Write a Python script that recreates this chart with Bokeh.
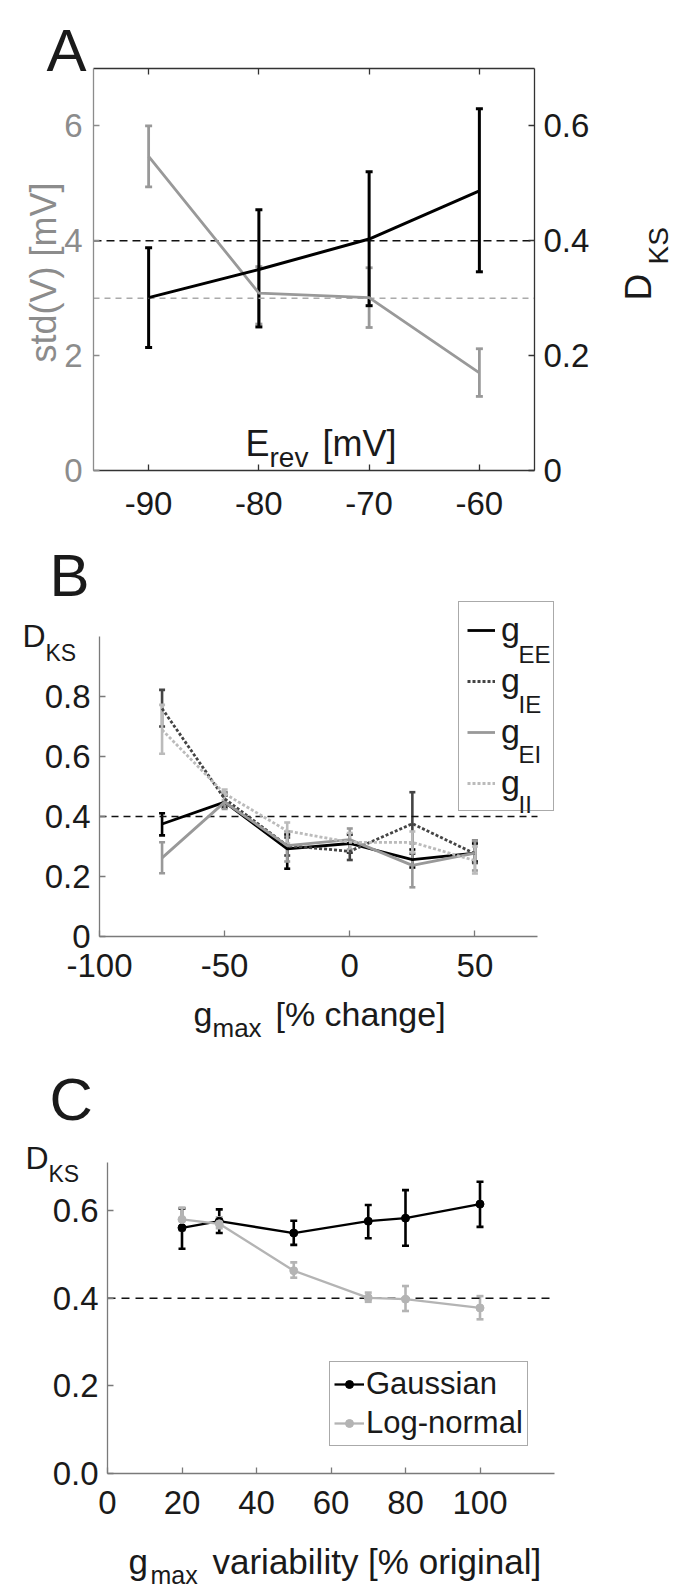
import math
from bokeh.plotting import figure
from bokeh.models import (Range1d, LinearAxis, FixedTicker, Whisker, TeeHead,
                          ColumnDataSource, Label, Legend, LegendItem)
from bokeh.layouts import column
from bokeh.embed import file_html
from bokeh.resources import INLINE

# ---------------- data ----------------
# Panel A
erev = [-90, -80, -70, -60]
std_v = [5.47, 3.09, 3.01, 1.70]
std_v_lo = [4.94, 2.55, 2.49, 1.29]
std_v_hi = [6.00, 3.55, 3.53, 2.12]
dks_a = [0.301, 0.350, 0.403, 0.487]
dks_a_lo = [0.214, 0.250, 0.287, 0.346]
dks_a_hi = [0.388, 0.454, 0.520, 0.630]
a_x_ticks = [-90, -80, -70, -60]
a_x_labels = ["-90", "-80", "-70", "-60"]
a_left_ticks = [0, 2, 4, 6]
a_left_labels = ["0", "2", "4", "6"]
a_right_ticks = [0, 0.2, 0.4, 0.6]
a_right_labels = ["0", "0.2", "0.4", "0.6"]
a_xlim, a_ylim, a_rlim = (-95, -55), (0, 7), (0, 0.7)

# Panel B
gmax_change = [-75, -50, -25, 0, 25, 50]
g_ee = [0.375, 0.448, 0.292, 0.310, 0.256, 0.278]
g_ee_lo = [0.337, 0.430, 0.226, 0.280, 0.230, 0.250]
g_ee_hi = [0.411, 0.470, 0.340, 0.340, 0.290, 0.310]
g_ie = [0.760, 0.459, 0.303, 0.284, 0.376, 0.276]
g_ie_lo = [0.700, 0.440, 0.270, 0.255, 0.276, 0.245]
g_ie_hi = [0.822, 0.480, 0.330, 0.310, 0.481, 0.320]
g_ei = [0.262, 0.448, 0.303, 0.323, 0.237, 0.278]
g_ei_lo = [0.211, 0.425, 0.250, 0.290, 0.164, 0.220]
g_ei_hi = [0.314, 0.480, 0.350, 0.360, 0.310, 0.320]
g_ii = [0.689, 0.476, 0.352, 0.314, 0.314, 0.253]
g_ii_lo = [0.609, 0.455, 0.310, 0.285, 0.280, 0.210]
g_ii_hi = [0.772, 0.490, 0.380, 0.345, 0.350, 0.300]
b_x_ticks = [-100, -50, 0, 50]
b_x_labels = ["-100", "-50", "0", "50"]
b_y_ticks = [0, 0.2, 0.4, 0.6, 0.8]
b_y_labels = ["0", "0.2", "0.4", "0.6", "0.8"]
b_series = ["EE", "IE", "EI", "II"]
b_xlim, b_ylim = (-100, 75), (0, 1.0)

# Panel C
variability = [20, 30, 50, 70, 80, 100]
gauss = [0.561, 0.576, 0.549, 0.576, 0.583, 0.615]
gauss_lo = [0.513, 0.549, 0.522, 0.537, 0.520, 0.563]
gauss_hi = [0.605, 0.603, 0.577, 0.613, 0.647, 0.666]
logn = [0.580, 0.570, 0.463, 0.401, 0.398, 0.378]
logn_lo = [0.555, 0.560, 0.447, 0.392, 0.371, 0.352]
logn_hi = [0.607, 0.585, 0.482, 0.413, 0.428, 0.405]
c_x_ticks = [0, 20, 40, 60, 80, 100]
c_x_labels = ["0", "20", "40", "60", "80", "100"]
c_y_ticks = [0, 0.2, 0.4, 0.6]
c_y_labels = ["0.0", "0.2", "0.4", "0.6"]
c_xlim, c_ylim = (0, 120), (0, 0.71)

threshold = 0.4
std_ref = 3.0

# ---------------- style ----------------
FONT = "Liberation Sans"
TXT = "#1a1a1a"
GRAY_A = "#999999"
GRAY_LBL = "#8c8c8c"
AX_GRAY = "#7a7a7a"
BOX = "#333333"
TICK_FS = "33px"
W = 673


def make_geo(fig_top, fig_h, pl, pr, pt, pb, xlim, ylim):
    """Full-frame figure: map the plot box (page px) to the data limits."""
    sx = (xlim[1] - xlim[0]) / (pr - pl)
    sy = (ylim[1] - ylim[0]) / (pb - pt)
    return dict(fl=0, fr=W, ft=fig_top, fb=fig_top + fig_h, h=fig_h,
                x0=xlim[0] - pl * sx, x1=xlim[1] + (W - pr) * sx,
                y0=ylim[0] - (fig_top + fig_h - pb) * sy, y1=ylim[1] + (pt - fig_top) * sy,
                pt=pt, pb=pb)


def extra_range(g, lim):
    sy = (lim[1] - lim[0]) / (g["pb"] - g["pt"])
    return Range1d(lim[0] - (g["fb"] - g["pb"]) * sy, lim[1] + (g["pt"] - g["ft"]) * sy)


def base_fig(g):
    p = figure(frame_width=W, frame_height=g["h"], min_border=0,
               min_border_left=0, min_border_right=0, min_border_top=0, min_border_bottom=0,
               x_range=Range1d(g["x0"], g["x1"]), y_range=Range1d(g["y0"], g["y1"]),
               x_axis_location=None, y_axis_location=None,
               output_backend="svg", toolbar_location=None,
               background_fill_color="white", border_fill_color="white")
    p.outline_line_color = None
    p.xgrid.visible = False
    p.ygrid.visible = False
    return p


def add_axis(p, place, loc, bounds, ticks, labels=None, line_color=TXT, label_color=TXT,
             standoff=10, y_range_name="default"):
    ax = LinearAxis(fixed_location=loc, bounds=bounds, ticker=FixedTicker(ticks=ticks))
    if y_range_name != "default":
        ax.y_range_name = y_range_name
    ax.axis_line_color = line_color
    ax.axis_line_width = 1.3
    ax.major_tick_in = 6
    ax.major_tick_out = 0
    ax.major_tick_line_color = line_color
    ax.major_tick_line_width = 1.3
    ax.minor_tick_line_color = None
    ax.major_label_text_font = FONT
    ax.major_label_text_font_size = TICK_FS
    ax.major_label_standoff = standoff
    if labels is None:
        ax.major_label_text_color = None
    else:
        ax.major_label_text_color = label_color
        ax.major_label_overrides = {t: s for t, s in zip(ticks, labels)}
    p.add_layout(ax, place)
    return ax


def add_text(p, g, px, py, text, size, color=TXT, angle=0.0, level="annotation"):
    x = g["x0"] + (px - g["fl"]) * (g["x1"] - g["x0"]) / (g["fr"] - g["fl"])
    y = g["y0"] + (g["fb"] - py) * (g["y1"] - g["y0"]) / (g["fb"] - g["ft"])
    p.add_layout(Label(x=x, y=y, text=text, text_font=FONT, text_font_size=f"{size}px",
                       text_color=color, angle=angle, text_align="left",
                       text_baseline="alphabetic", level=level))


def whisk(p, xs, lo, hi, color, width, head=7, y_range_name="default"):
    src = ColumnDataSource(dict(x=xs, lo=lo, hi=hi))
    w = Whisker(base="x", lower="lo", upper="hi", source=src, dimension="height",
                line_color=color, line_width=width,
                upper_head=TeeHead(size=head, line_color=color, line_width=width),
                lower_head=TeeHead(size=head, line_color=color, line_width=width))
    if y_range_name != "default":
        w.y_range_name = y_range_name
    p.add_layout(w)


# ================= Panel A =================
gA = make_geo(0, 528, 93, 534, 68, 470, a_xlim, a_ylim)
pA = base_fig(gA)
pA.extra_y_ranges = {"dks": extra_range(gA, a_rlim)}

add_axis(pA, "below", a_ylim[0], a_xlim, a_x_ticks, a_x_labels, line_color=BOX, standoff=21)
add_axis(pA, "above", a_ylim[1], a_xlim, a_x_ticks, None, line_color=BOX)
add_axis(pA, "right", a_xlim[1], a_rlim, a_right_ticks, a_right_labels, line_color=BOX,
         standoff=9, y_range_name="dks")
add_axis(pA, "left", a_xlim[0], a_ylim, a_left_ticks, a_left_labels, line_color=GRAY_LBL,
         label_color=GRAY_LBL, standoff=11)

pA.line(list(a_xlim), [std_ref, std_ref], line_color="#aaaaaa", line_width=1.5, line_dash="6 5")
pA.line(list(a_xlim), [threshold, threshold], line_color="#111111", line_width=1.5,
        line_dash="8 5", y_range_name="dks")

pA.line(erev, std_v, line_color=GRAY_A, line_width=2.8)
whisk(pA, erev, std_v_lo, std_v_hi, GRAY_A, 2.8)
pA.line(erev, dks_a, line_color="#000000", line_width=3.0, y_range_name="dks")
whisk(pA, erev, dks_a_lo, dks_a_hi, "#000000", 3.0, y_range_name="dks")

add_text(pA, gA, 46, 50, "A", 60)
add_text(pA, gA, 42.5, 362, "std(V) [mV]", 36, color=GRAY_LBL, angle=math.pi / 2)
add_text(pA, gA, 638, 300, "D", 37, angle=math.pi / 2)
add_text(pA, gA, 658, 264, "KS", 28, angle=math.pi / 2)
add_text(pA, gA, 245, 443, "E", 36)
add_text(pA, gA, 269, 457, "rev", 28)
add_text(pA, gA, 322, 443, "[mV]", 36)

# ================= Panel B =================
gB = make_geo(528, 522, 99, 537, 636, 936, b_xlim, b_ylim)
pB = base_fig(gB)
add_axis(pB, "below", b_ylim[0], b_xlim, b_x_ticks, b_x_labels, line_color=AX_GRAY, standoff=17)
add_axis(pB, "left", b_xlim[0], b_ylim, b_y_ticks, b_y_labels, line_color=AX_GRAY, standoff=9)

pB.line(list(b_xlim), [threshold, threshold], line_color="#111111", line_width=1.5,
        line_dash="7 5")

b_data = [(g_ee, g_ee_lo, g_ee_hi, "#000000", "solid"),
          (g_ie, g_ie_lo, g_ie_hi, "#444444", "3 2"),
          (g_ei, g_ei_lo, g_ei_hi, "#999999", "solid"),
          (g_ii, g_ii_lo, g_ii_hi, "#bbbbbb", "3 2")]
b_items = []
for (ys, lo, hi, col, dash), name in zip(b_data, b_series):
    r = pB.line(gmax_change, ys, line_color=col, line_width=2.8, line_dash=dash)
    whisk(pB, gmax_change, lo, hi, col, 2.6, head=6)
    b_items.append(LegendItem(label="g", renderers=[r]))

# subscripts of the legend entries (drawn below a transparent legend box)
for i, name in enumerate(b_series):
    add_text(pB, gB, 518, 654 + 50 * i, name, 24, level="overlay")

legB = Legend(items=b_items, location=(458, gB["fb"] - 811), padding=8, spacing=12, margin=0,
              glyph_width=28, glyph_height=38, label_height=38, label_width=44,
              label_standoff=6, label_text_font=FONT, label_text_font_size="34px",
              label_text_color=TXT, border_line_color="#555555", border_line_width=1.2,
              background_fill_color="white", background_fill_alpha=0.0)
pB.add_layout(legB)

add_text(pB, gB, 49, 575, "B", 60)
add_text(pB, gB, 22, 635, "D", 32)
add_text(pB, gB, 45, 652, "KS", 23)
add_text(pB, gB, 193, 1013, "g", 34)
add_text(pB, gB, 212, 1027, "max", 26)
add_text(pB, gB, 275, 1013, "[% change]", 34)

# ================= Panel C =================
gC = make_geo(1050, 540, 107, 554, 1162, 1473, c_xlim, c_ylim)
pC = base_fig(gC)
add_axis(pC, "below", c_ylim[0], c_xlim, c_x_ticks, c_x_labels, line_color=AX_GRAY, standoff=17)
add_axis(pC, "left", c_xlim[0], c_ylim, c_y_ticks, c_y_labels, line_color=AX_GRAY, standoff=9)

pC.line(list(c_xlim), [threshold, threshold], line_color="#111111", line_width=1.5,
        line_dash="8 6")

LOGC = "#b4b4b4"
rg_l = pC.line(variability, gauss, line_color="#000000", line_width=2.3)
rg_s = pC.scatter(variability, gauss, size=8, fill_color="#000000", line_color="#000000")
whisk(pC, variability, gauss_lo, gauss_hi, "#000000", 2.6, head=7)
rl_l = pC.line(variability, logn, line_color=LOGC, line_width=2.3)
rl_s = pC.scatter(variability, logn, size=8, fill_color=LOGC, line_color=LOGC)
whisk(pC, variability, logn_lo, logn_hi, LOGC, 2.6, head=7)

legC = Legend(items=[LegendItem(label="Gaussian", renderers=[rg_l, rg_s]),
                     LegendItem(label="Log-normal", renderers=[rl_l, rl_s])],
              location=(329, gC["fb"] - 1446), padding=4, spacing=3, margin=0,
              glyph_width=30, label_standoff=2, label_text_font=FONT,
              label_text_font_size="31px", label_text_color=TXT,
              border_line_color="#555555", border_line_width=1.2,
              background_fill_color="white", background_fill_alpha=1.0)
pC.add_layout(legC)

add_text(pC, gC, 49, 1099, "C", 60)
add_text(pC, gC, 25, 1157, "D", 32)
add_text(pC, gC, 48, 1173, "KS", 23)
add_text(pC, gC, 128, 1561, "g", 35)
add_text(pC, gC, 150, 1574, "max", 25)
add_text(pC, gC, 212, 1561, "variability [% original]", 35)

layout = column(pA, pB, pC, spacing=0)
open("out.html", "w").write(file_html(layout, INLINE))
